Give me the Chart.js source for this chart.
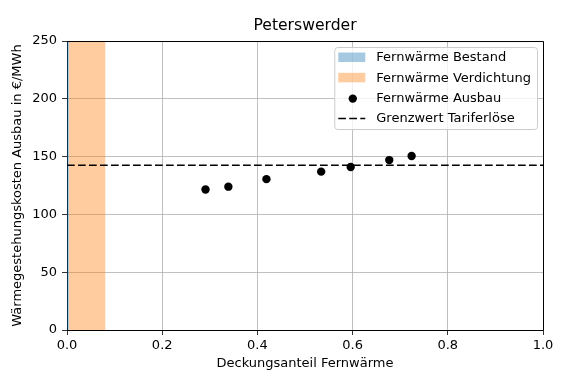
<!DOCTYPE html>
<html>
<head>
<meta charset="utf-8">
<script src="https://cdn.jsdelivr.net/npm/chart.js@4/dist/chart.umd.min.js"></script>
<style>
  html, body { margin: 0; padding: 0; background: #fff; }
  #wrap { width: 566px; height: 380px; position: relative; }
</style>
</head>
<body>
<div id="wrap"><canvas id="chart"></canvas></div>
<script>
// Data
var bestandRange = [0, 0.004];
var verdichtungRange = [0.004, 0.081];
var ausbauX = [0.291, 0.339, 0.419, 0.534, 0.596, 0.677, 0.724];
var ausbauY = [121.5, 124, 130.5, 137, 141, 147, 150.5];
var grenzwert = 142.5;
var xTicks = [0, 0.2, 0.4, 0.6, 0.8, 1.0];
var yTicks = [0, 50, 100, 150, 200, 250];

var FONT = '"DejaVu Sans", sans-serif';
var blueFill = 'rgba(31,119,180,0.4)';
var orangeFill = 'rgba(255,127,14,0.4)';

function band(range, yMax) {
    return range.map(function (x) { return { x: x, y: yMax }; });
}

// frame (top/right spines), title-free legend drawn like matplotlib
var framePlugin = {
    id: 'frame',
    afterDraw: function (chart) {
        var ctx = chart.ctx, a = chart.chartArea;
        ctx.save();
        ctx.strokeStyle = '#000';
        ctx.lineWidth = 1;
        ctx.beginPath();
        ctx.moveTo(a.left, a.top + 0.5);
        ctx.lineTo(a.right + 0.5, a.top + 0.5);
        ctx.lineTo(a.right + 0.5, a.bottom);
        ctx.stroke();

        // legend
        var items = [
            { label: 'Fernwärme Bestand', kind: 'patch', color: blueFill },
            { label: 'Fernwärme Verdichtung', kind: 'patch', color: orangeFill },
            { label: 'Fernwärme Ausbau', kind: 'dot' },
            { label: 'Grenzwert Tariferlöse', kind: 'dash' }
        ];
        ctx.font = '13px ' + FONT;
        var maxW = 0;
        items.forEach(function (it) { maxW = Math.max(maxW, ctx.measureText(it.label).width); });
        var w = 42 + maxW + 6;
        var h = 82;
        var right = a.right - 6;
        var left = right - w;
        var top = a.top + 6;
        ctx.fillStyle = 'rgba(255,255,255,0.8)';
        ctx.strokeStyle = '#cccccc';
        ctx.beginPath();
        ctx.roundRect(left + 0.5, top + 0.5, w, h, 3);
        ctx.fill();
        ctx.stroke();
        items.forEach(function (it, i) {
            var cy = top + 10 + i * 20.3;
            if (it.kind === 'patch') {
                ctx.fillStyle = it.color;
                ctx.fillRect(left + 4, cy - 4.5, 27, 9.5);
            } else if (it.kind === 'dot') {
                ctx.fillStyle = '#000';
                ctx.beginPath();
                ctx.arc(left + 18.5, cy + 1, 4.2, 0, Math.PI * 2);
                ctx.fill();
            } else {
                ctx.strokeStyle = '#000';
                ctx.lineWidth = 1.5;
                ctx.setLineDash([7.7, 3.3]);
                ctx.beginPath();
                ctx.moveTo(left + 4, cy + 0.5);
                ctx.lineTo(left + 31, cy + 0.5);
                ctx.stroke();
                ctx.setLineDash([]);
            }
            ctx.fillStyle = '#000';
            ctx.textBaseline = 'middle';
            ctx.textAlign = 'left';
            ctx.fillText(it.label, left + 42, cy + 1);
        });
        ctx.restore();
    }
};

var chart = new Chart(document.getElementById('chart'), {
    type: 'scatter',
    data: {
        datasets: [{
            label: 'Fernwärme Bestand',
            type: 'line',
            data: band(bestandRange, yTicks[yTicks.length - 1]),
            backgroundColor: blueFill,
            borderWidth: 0,
            pointRadius: 0,
            fill: 'origin',
            order: 5
        }, {
            label: 'Fernwärme Verdichtung',
            type: 'line',
            data: band(verdichtungRange, yTicks[yTicks.length - 1]),
            backgroundColor: orangeFill,
            borderWidth: 0,
            pointRadius: 0,
            fill: 'origin',
            order: 4
        }, {
            label: 'Grenzwert Tariferlöse',
            type: 'line',
            data: [{ x: xTicks[0], y: grenzwert }, { x: xTicks[xTicks.length - 1], y: grenzwert }],
            borderColor: '#000',
            borderWidth: 1.5,
            borderDash: [7.7, 3.3],
            pointRadius: 0,
            fill: false,
            order: 2
        }, {
            label: 'Fernwärme Ausbau',
            data: ausbauX.map(function (x, i) { return { x: x, y: ausbauY[i] }; }),
            backgroundColor: '#000',
            borderWidth: 0,
            pointRadius: 4.2,
            order: 1
        }]
    },
    options: {
        responsive: true,
        maintainAspectRatio: false,
        animation: false,
        layout: { padding: { top: 1.3, right: 23, left: 0, bottom: 0 } },
        plugins: {
            legend: { display: false },
            tooltip: { enabled: false },
            title: {
                display: true,
                text: 'Peterswerder',
                fullSize: false,
                color: '#000',
                font: { family: FONT, size: 15.6, weight: 'normal' },
                padding: { top: 15, bottom: 6 }
            }
        },
        scales: {
            x: {
                type: 'linear',
                min: xTicks[0],
                max: xTicks[xTicks.length - 1],
                afterBuildTicks: function (s) { s.ticks = xTicks.map(function (v) { return { value: v }; }); },
                afterFit: function (s) { s.height = 50; },
                ticks: {
                    color: '#000',
                    font: { family: FONT, size: 13 },
                    padding: 3,
                    maxRotation: 0,
                    callback: function (v) { return Number(v).toFixed(1); }
                },
                grid: { color: '#b0b0b0', lineWidth: 0.8, tickColor: '#000', tickLength: 5 },
                border: { color: '#000', width: 1 },
                title: {
                    display: true,
                    text: 'Deckungsanteil Fernwärme',
                    color: '#000',
                    font: { family: FONT, size: 13 },
                    padding: { top: 0, bottom: 9 }
                }
            },
            y: {
                min: yTicks[0],
                max: yTicks[yTicks.length - 1],
                afterBuildTicks: function (s) { s.ticks = yTicks.map(function (v) { return { value: v }; }); },
                afterFit: function (s) { s.width = 67; },
                ticks: {
                    color: '#000',
                    font: { family: FONT, size: 13 },
                    padding: 5
                },
                grid: { color: '#b0b0b0', lineWidth: 0.8, tickColor: '#000', tickLength: 5 },
                border: { color: '#000', width: 1 },
                title: {
                    display: true,
                    text: 'Wärmegestehungskosten Ausbau in €/MWh',
                    color: '#000',
                    font: { family: FONT, size: 13 },
                    padding: { top: 10, bottom: 0 }
                }
            }
        }
    },
    plugins: [framePlugin]
});
</script>
</body>
</html>
